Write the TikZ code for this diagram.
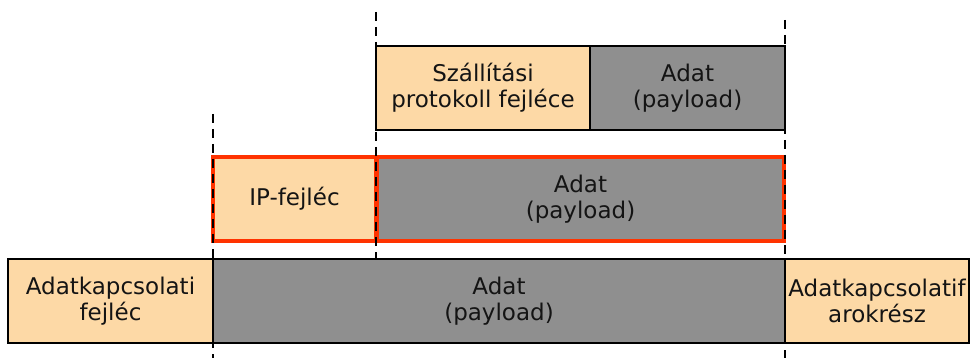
\documentclass[tikz,border=0pt]{standalone}
\usepackage{fontspec}
\setmainfont{DejaVu Sans}
\definecolor{hdrfill}{HTML}{FDD9A6}
\definecolor{datafill}{HTML}{8F8F8F}
\definecolor{ipred}{HTML}{FF3300}
\definecolor{txt}{HTML}{141414}
\begin{document}
\begin{tikzpicture}[x=1pt,y=-1pt,
  field/.style={rectangle,inner sep=0pt,outer sep=0pt,align=center,
    text=txt,font=\fontsize{23}{26}\selectfont},
  hdr/.style={field,fill=hdrfill},
  payload/.style={field,fill=datafill},
  blackedge/.style={draw=black,line width=2.6pt},
  rededge/.style={draw=ipred,line width=3.8pt},
  guide/.style={draw=black,line width=2pt,dash pattern=on 9pt off 6pt}]
\useasboundingbox (0,0) rectangle (977,358);

% transport layer segment
\node[hdr,blackedge,minimum width=214pt,minimum height=84pt] (tph) at (483,88)
  {Szállítási\\protokoll fejléce};
\node[payload,blackedge,minimum width=195pt,minimum height=84pt] (tpd) at (687.5,88)
  {Adat\\(payload)};

% network layer packet
\node[hdr,rededge,minimum width=163pt,minimum height=84pt] (iph) at (294.5,199)
  {IP-fejléc};
\node[payload,rededge,minimum width=407pt,minimum height=84pt] (ipd) at (580.5,199)
  {Adat\\(payload)};

% data link layer frame
\node[hdr,blackedge,minimum width=205pt,minimum height=84pt] (dlh) at (110.5,301)
  {Adatkapcsolati\\fejléc};
\node[payload,blackedge,minimum width=572pt,minimum height=84pt] (dld) at (499,301)
  {Adat\\(payload)};
\node[hdr,blackedge,minimum width=184pt,minimum height=84pt] (dlt) at (877,301)
  {Adatkapcsolatif\\arokrész};

% alignment guides
\coordinate (g1a) at (376,12);  \coordinate (g1b) at (376,259);
\coordinate (g2a) at (213,114); \coordinate (g2b) at (213,358);
\coordinate (g3a) at (785,20);  \coordinate (g3b) at (785,358);
\draw[guide] (g1a) -- (g1b);
\draw[guide] (g2a) -- (g2b);
\draw[guide] (g3a) -- (g3b);
\end{tikzpicture}
\end{document}
